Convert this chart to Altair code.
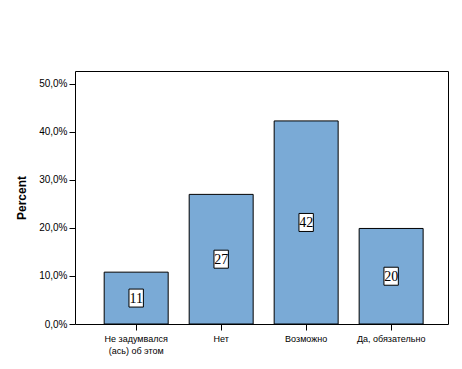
import altair as alt
import pandas as pd

categories = ["Не задумвался|(ась) об этом", "Нет", "Возможно", "Да, обязательно"]
percents = [10.8, 27.0, 42.3, 19.9]
counts = [11, 27, 42, 20]

df = pd.DataFrame({"cat": categories, "pct": percents, "n": counts})
df["mid"] = df["pct"] / 2

xscale = alt.Scale(paddingInner=0.247, paddingOuter=0.318, align=0.54)
xenc = alt.X("cat:N", sort=categories, title=None, scale=xscale,
             axis=alt.Axis(labelExpr="split(datum.label, '|')", labelAngle=0,
                           labelFont="Liberation Sans", labelFontSize=9, labelColor="black",
                           tickColor="black", tickSize=6, domain=False, labelPadding=4,
                           labelLineHeight=12))
yscale = alt.Scale(domain=[0, 52.7], nice=False)

bars = alt.Chart(df).mark_bar(color="#7aaad6", stroke="black", strokeWidth=1).encode(
    x=xenc,
    y=alt.Y("pct:Q", scale=yscale, title="Percent",
            axis=alt.Axis(values=[0, 10, 20, 30, 40, 50],
                          labelExpr="replace(format(datum.value, '.1f'), '.', ',') + '%'",
                          grid=False, domain=False, tickColor="black", tickSize=6,
                          labelFont="Liberation Sans", labelFontSize=10, labelColor="black",
                          titleFont="Liberation Sans", titleFontSize=12, titleFontWeight="bold",
                          titleColor="black", titlePadding=10, labelPadding=2)),
)

boxes = alt.Chart(df).mark_point(shape="M-0.8,-1H0.8V1H-0.8Z", filled=True, fill="white",
                                 stroke="black", strokeWidth=1, opacity=1, size=324).encode(
    x=alt.X("cat:N", sort=categories, scale=xscale),
    y=alt.Y("mid:Q", scale=yscale),
)

labels = alt.Chart(df).mark_text(font="Liberation Serif", fontSize=14, color="black",
                                 baseline="middle", align="center", dy=1).encode(
    x=alt.X("cat:N", sort=categories, scale=xscale),
    y=alt.Y("mid:Q", scale=yscale),
    text="n:Q",
)

chart = alt.layer(bars, boxes, labels).properties(
    width=373, height=253,
    background="white",
    autosize=alt.AutoSizeParams(type="none"),
    padding={"left": 67, "top": 63, "right": 6, "bottom": 45},
).configure_view(stroke="black", strokeWidth=1)

chart.save("out.html", embed_options={"renderer": "svg", "actions": False})
